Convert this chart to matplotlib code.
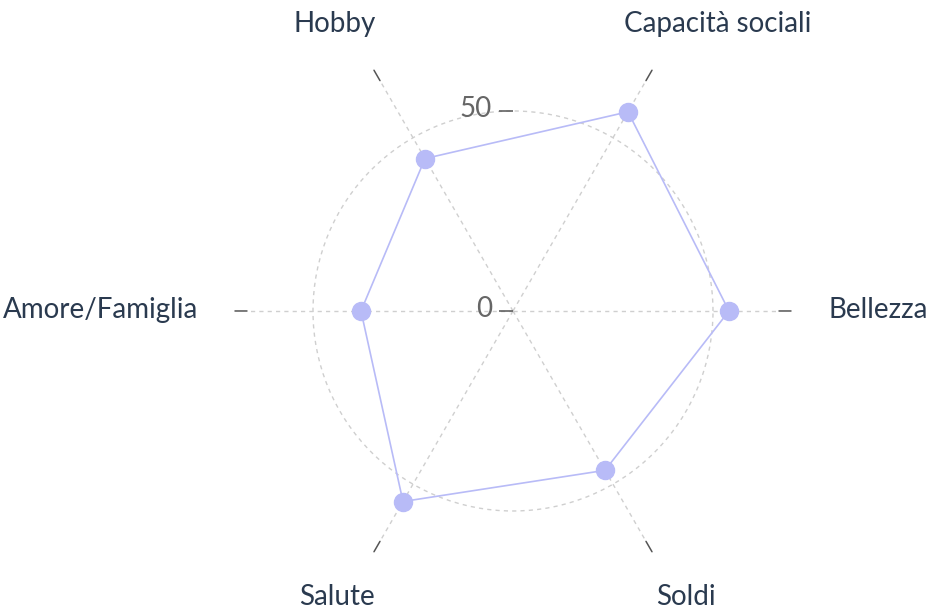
import numpy as np
import matplotlib
matplotlib.use("Agg")
import matplotlib.pyplot as plt
import matplotlib.transforms as mtransforms

plt.rcParams['font.family'] = ['Lato', 'DejaVu Sans']

# data
categories = ["Bellezza", "Capacità sociali", "Hobby", "Amore/Famiglia", "Salute", "Soldi"]
values = [54, 57.5, 44, 38, 55, 46]
r_ticks = [0, 50]
r_max = 66.5

# label placement (pixel offsets from axis end, alignment)
label_offsets = [(50, -7), (72, 49), (-45, 49), (-49, -7), (-43, -64), (40, -64)]
label_ha = ["left", "center", "center", "right", "center", "center"]

line_color = "#b8bbf7"
text_color = "#2a3a4f"
grid_color = "#cfcfcf"
tick_color = "#555555"

fig = plt.figure(figsize=(9.47, 6.12), dpi=100)
ax = fig.add_axes([0.2608, 0.0572, 0.5618, 0.8693], projection="polar")

theta = np.deg2rad(np.arange(len(categories)) * 60)
th_closed = np.append(theta, theta[0])
v_closed = np.append(values, values[0])

ax.plot(th_closed, v_closed, color=line_color, lw=1.2, zorder=3)
ax.plot(theta, values, "o", color=line_color, ms=13, zorder=4)

ax.set_ylim(0, r_max)
ax.set_xticks(theta)
ax.set_xticklabels([])
ax.set_yticks(r_ticks)
ax.set_yticklabels([])
ax.spines["polar"].set_visible(False)
ax.grid(True, color=grid_color, linestyle=(0, (3, 3)), lw=1.0)
ax.tick_params(axis="both", length=0)

# angular ticks (outside) and labels
tick_len = 12
for t, name, off, ha in zip(theta, categories, label_offsets, label_ha):
    ax.annotate("", xy=(t, r_max), xytext=(tick_len * np.cos(t), tick_len * np.sin(t)),
                textcoords="offset pixels", annotation_clip=False,
                arrowprops=dict(arrowstyle="-", color=tick_color, lw=1.1,
                                shrinkA=0, shrinkB=0))
    ax.annotate(name, xy=(t, r_max), xytext=off, textcoords="offset pixels",
                ha=ha, va="baseline", fontsize=20, color=text_color,
                annotation_clip=False)

# radial ticks and labels along the vertical axis
tick_tr = ax.transData + mtransforms.ScaledTranslation(-6.5 / 100, 0, fig.dpi_scale_trans)
for r in r_ticks:
    ax.plot([np.pi / 2], [r], marker="_", ms=9.4, mew=1.1, color=tick_color,
            transform=tick_tr, clip_on=False, zorder=5)
    ax.annotate(str(r), xy=(np.pi / 2, r), xytext=(-21, 2), textcoords="offset pixels",
                ha="right", va="center", fontsize=20, color="#666666")

fig.savefig("out.png", dpi=100)
